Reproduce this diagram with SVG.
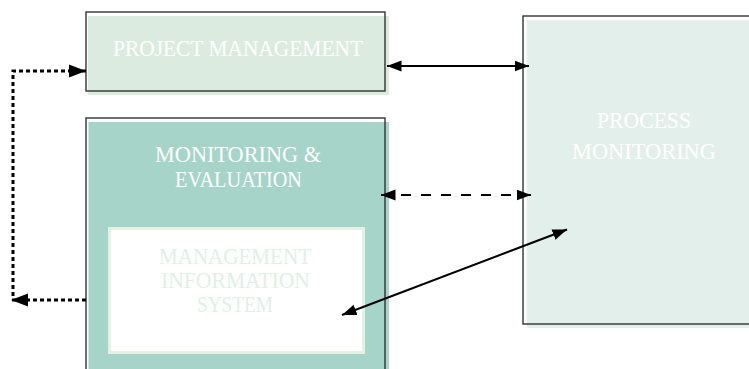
<svg xmlns="http://www.w3.org/2000/svg" width="749" height="369" viewBox="0 0 749 369">
  <style>
    .outline { fill: none; stroke: #333333; stroke-width: 1.4; }
    .lbl { font-family: "Liberation Serif", "DejaVu Serif", serif; font-size: 22.5px; }
    .w { fill: #ffffff; }
    .pale { fill: #e2f0e8; }
    .solid { fill: none; stroke: #000000; stroke-width: 2; }
    .dash { fill: none; stroke: #000000; stroke-width: 2; stroke-dasharray: 10 10; }
    .dot { fill: none; stroke: #000000; stroke-width: 3; stroke-dasharray: 4 3; }
  </style>
  <defs>
    <marker id="ah" markerUnits="userSpaceOnUse" markerWidth="16" markerHeight="12" refX="14.5" refY="6" orient="auto-start-reverse">
      <path d="M0,0.5 L14.5,6 L0,11.5 Z" fill="#000000"/>
    </marker>
    <marker id="ahb" markerUnits="userSpaceOnUse" markerWidth="18" markerHeight="14" refX="17" refY="7" orient="auto-start-reverse">
      <path d="M0,0.5 L17,7 L0,13.5 Z" fill="#000000"/>
    </marker>
  </defs>
  <rect width="749" height="369" fill="#ffffff"/>

  <g id="project-management">
    <rect x="88" y="16" width="301" height="79" fill="#dcebdf"/>
    <rect class="outline" x="86" y="12" width="299" height="79"/>
    <text class="lbl w" x="113" y="56" textLength="250" lengthAdjust="spacingAndGlyphs">PROJECT MANAGEMENT</text>
  </g>

  <g id="monitoring-evaluation">
    <rect x="88.5" y="122" width="300.5" height="260" fill="#a6d4c8"/>
    <rect class="outline" x="86" y="118" width="299" height="270"/>
    <text class="lbl w" x="155" y="162" textLength="166" lengthAdjust="spacingAndGlyphs">MONITORING &amp;</text>
    <text class="lbl w" x="175" y="187" textLength="127" lengthAdjust="spacingAndGlyphs">EVALUATION</text>
  </g>

  <g id="management-information-system">
    <rect x="109.5" y="228.5" width="254" height="124" fill="#ffffff" stroke="#e4f1e7" stroke-width="3"/>
    <text class="lbl pale" x="159" y="264" textLength="152" lengthAdjust="spacingAndGlyphs">MANAGEMENT</text>
    <text class="lbl pale" x="161" y="288" textLength="149" lengthAdjust="spacingAndGlyphs">INFORMATION</text>
    <text class="lbl pale" x="197" y="312" textLength="76" lengthAdjust="spacingAndGlyphs">SYSTEM</text>
  </g>

  <g id="process-monitoring">
    <rect x="527" y="20" width="230" height="308" fill="#e2efea"/>
    <rect class="outline" x="523" y="16" width="240" height="308"/>
    <text class="lbl w" x="597" y="128" textLength="94" lengthAdjust="spacingAndGlyphs">PROCESS</text>
    <text class="lbl w" x="572" y="159" textLength="144" lengthAdjust="spacingAndGlyphs">MONITORING</text>
  </g>

  <g id="connectors">
    <path class="solid" d="M387,66 H529" marker-start="url(#ah)" marker-end="url(#ah)"/>
    <path class="dash" d="M381,195 H531" marker-start="url(#ah)" marker-end="url(#ah)"/>
    <path class="solid" d="M342,315 L567,229.5" marker-start="url(#ah)" marker-end="url(#ah)"/>
    <path class="dot" d="M86,300 H11" marker-end="url(#ahb)"/>
    <path class="dot" d="M13,296 V71 H86" marker-end="url(#ahb)"/>
  </g>
</svg>
